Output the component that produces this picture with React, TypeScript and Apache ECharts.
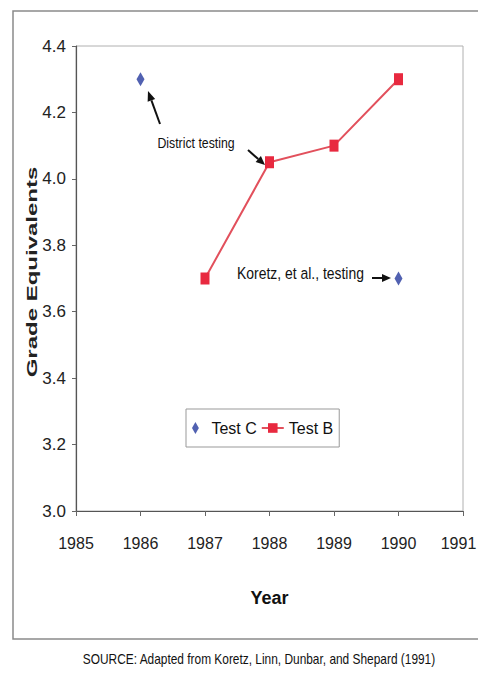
import React, { useEffect, useRef } from "react";
import * as echarts from "echarts";

const years = [1985, 1986, 1987, 1988, 1989, 1990, 1991];
const testCYears = [1986, 1990];
const testCValues = [4.3, 3.7];
const testBYears = [1987, 1988, 1989, 1990];
const testBValues = [3.7, 4.05, 4.1, 4.3];
const yTicks = [3.0, 3.2, 3.4, 3.6, 3.8, 4.0, 4.2, 4.4];

const SANS = "'Liberation Sans', Arial, sans-serif";

function arrow(tail: number[], tip: number[], len = 10, half = 4) {
  const dx = tip[0] - tail[0];
  const dy = tip[1] - tail[1];
  const d = Math.hypot(dx, dy);
  const ux = dx / d;
  const uy = dy / d;
  const bx = tip[0] - ux * len;
  const by = tip[1] - uy * len;
  const px = -uy;
  const py = ux;
  return [
    {
      type: "line",
      shape: { x1: tail[0], y1: tail[1], x2: bx, y2: by },
      style: { stroke: "#111", lineWidth: 2 },
    },
    {
      type: "polygon",
      shape: {
        points: [
          [tip[0], tip[1]],
          [bx + px * half, by + py * half],
          [bx - px * half, by - py * half],
        ],
      },
      style: { fill: "#111" },
    },
  ];
}

export default function App() {
  const ref = useRef<HTMLDivElement>(null);
  useEffect(() => {
    if (!ref.current) return;
    const chart = echarts.init(ref.current, undefined, { renderer: "svg" });
    const lastYear = years[years.length - 1];
    chart.setOption({
      animation: false,
      backgroundColor: "#ffffff",
      grid: {
        left: 76,
        top: 46,
        width: 387,
        height: 465,
        show: true,
        borderColor: "#b0b0b0",
        borderWidth: 1,
        backgroundColor: "transparent",
        outerBoundsMode: "none",
        containLabel: false,
      },
      xAxis: {
        type: "value",
        min: years[0],
        max: lastYear,
        interval: 1,
        name: "Year",
        nameLocation: "middle",
        nameGap: 78,
        nameTextStyle: { fontFamily: SANS, fontWeight: "bold", fontSize: 18, color: "#111" },
        axisLine: { show: true, lineStyle: { color: "#555", width: 1.2 } },
        axisTick: { show: true, length: 5, lineStyle: { color: "#666" } },
        splitLine: { show: false },
        axisLabel: {
          margin: 24,
          fontFamily: SANS,
          fontSize: 16,
          color: "#222",
          hideOverlap: false,
          formatter: (v: number) => (v === lastYear ? `{last|${v}}` : String(v)),
          rich: {
            last: { fontFamily: SANS, fontSize: 16, color: "#222", padding: [0, 9, 0, 0] },
          },
        },
      },
      yAxis: {
        type: "value",
        min: yTicks[0],
        max: yTicks[yTicks.length - 1],
        interval: 0.2,
        axisLine: { show: true, lineStyle: { color: "#555", width: 1.2 } },
        axisTick: { show: true, length: 4, lineStyle: { color: "#666" } },
        splitLine: { show: false },
        axisLabel: {
          margin: 10,
          fontFamily: SANS,
          fontSize: 17,
          color: "#222",
          formatter: (v: number) => v.toFixed(1),
        },
      },
      legend: {
        orient: "horizontal",
        left: 186,
        top: 409,
        padding: [11, 6, 11, 6],
        borderColor: "#999",
        borderWidth: 1,
        backgroundColor: "#fff",
        itemGap: 4,
        itemWidth: 22,
        itemHeight: 12,
        textStyle: { fontFamily: SANS, fontSize: 16, color: "#111" },
        data: [
          { name: "Test C", icon: "path://M4,0L8,7L4,14L0,7Z" },
          { name: "Test B" },
        ],
      },
      series: [
        {
          name: "Test C",
          type: "scatter",
          data: testCYears.map((y, i) => [y, testCValues[i]]),
          symbol: "diamond",
          symbolSize: [8, 14],
          itemStyle: { color: "#25399e" },
        },
        {
          name: "Test B",
          type: "line",
          data: testBYears.map((y, i) => [y, testBValues[i]]),
          symbol: "rect",
          symbolSize: [9, 12],
          showSymbol: true,
          lineStyle: { color: "#e2505c", width: 2 },
          itemStyle: { color: "#e8293f" },
        },
      ],
      graphic: [
        {
          type: "rect",
          shape: { x: 13, y: 11, width: 480, height: 628 },
          style: { fill: "none", stroke: "#8a8a8a", lineWidth: 1.5 },
          silent: true,
        },
        {
          type: "text",
          x: 32,
          y: 272,
          rotation: Math.PI / 2,
          scaleX: 1.6,
          style: {
            text: "Grade Equivalents",
            font: `bold 15px ${SANS}`,
            fill: "#222",
            textAlign: "center",
            textVerticalAlign: "middle",
          },
        },
        {
          type: "text",
          x: 196,
          y: 143,
          scaleX: 0.82,
          style: {
            text: "District testing",
            font: `15px ${SANS}`,
            fill: "#111",
            textAlign: "center",
            textVerticalAlign: "middle",
          },
        },
        {
          type: "text",
          x: 237,
          y: 273,
          scaleX: 0.82,
          style: {
            text: "Koretz, et al., testing",
            font: `17px ${SANS}`,
            fill: "#111",
            textAlign: "left",
            textVerticalAlign: "middle",
          },
        },
        {
          type: "text",
          x: 259,
          y: 659,
          scaleX: 0.85,
          style: {
            text: "SOURCE: Adapted from Koretz, Linn, Dunbar, and Shepard (1991)",
            font: `14px ${SANS}`,
            fill: "#111",
            textAlign: "center",
            textVerticalAlign: "middle",
          },
        },
        ...arrow([160, 124], [148, 91]),
        ...arrow([248, 150], [265, 165], 9, 4),
        ...arrow([372, 278], [391, 278], 9, 4),
      ],
    });
    return () => chart.dispose();
  }, []);
  return (
    <div
      ref={ref}
      style={{ position: "fixed", left: 0, top: 0, width: 478, height: 673 }}
    />
  );
}
